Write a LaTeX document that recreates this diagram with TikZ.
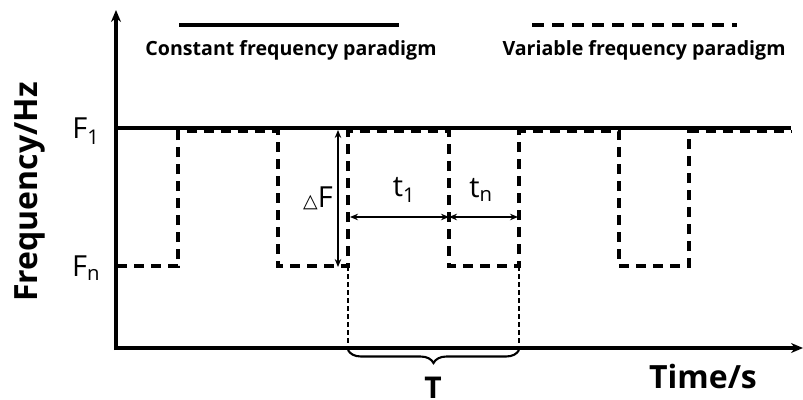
\documentclass[tikz,border=0pt]{standalone}
\usepackage{fontspec}
\setmainfont{Open Sans}
\newfontfamily\symfont{DejaVu Sans}
\usetikzlibrary{arrows.meta,decorations.pathreplacing}
\begin{document}
\begin{tikzpicture}[x=1pt,y=-1pt,
  axis/.style={line width=3.4pt,-{Stealth[length=12pt,width=10pt]}},
  wave/.style={line width=3.5pt,dash pattern=on 10pt off 7pt},
  guide/.style={line width=1.1pt,dash pattern=on 5pt off 3pt},
  solidline/.style={line width=3.2pt},
  dim/.style={line width=1.7pt,{Stealth[length=8pt,width=6.5pt]}-{Stealth[length=8pt,width=6.5pt]}},
  lbl/.style={inner sep=0pt,font=\fontsize{29}{33}\selectfont},
  btxt/.style={inner sep=0pt,font=\bfseries\fontsize{19.6}{23}\selectfont},
  big/.style={inner sep=0pt,font=\bfseries\fontsize{32}{36}\selectfont}]
\useasboundingbox (0,0) rectangle (803,399);
% axes
\coordinate (O) at (116,350);
\coordinate (ytop) at (116,10);
\coordinate (xend) at (803,348);
\draw[axis] (O) -- (ytop);
\draw[axis] (114.3,348) -- (xend);
% F1 solid line
\coordinate (f1a) at (116,128);
\coordinate (f1b) at (791,128);
\draw[solidline] (f1a) -- (f1b);
% waveform
\draw[wave] (117,266) -- (178,266) -- (178,131.5) -- (278,131.5) -- (278,266) -- (348,266) -- (348,131.5) -- (449,131.5) -- (449,266) -- (519,266) -- (519,131.5) -- (619,131.5) -- (619,266) -- (689,266) -- (689,131.5) -- (791,131.5);
% guides
\coordinate (g1a) at (348,266); \coordinate (g1b) at (348,349);
\coordinate (g2a) at (519,266); \coordinate (g2b) at (519,349);
\draw[guide] (g1a) -- (g1b);
\draw[guide] (g2a) -- (g2b);
% legend
\coordinate (l1a) at (179,25); \coordinate (l1b) at (399,25);
\draw[solidline] (l1a) -- (l1b);
\coordinate (l2a) at (532,25); \coordinate (l2b) at (737,25);
\draw[solidline,dash pattern=on 12pt off 8pt] (l2a) -- (l2b);
\node[btxt] (leg1) at (291,50) {Constant frequency paradigm};
\node[btxt] (leg2) at (644,50) {Variable frequency paradigm};
% axis labels
\node[lbl] (F1) at (86,131) {F\textsubscript{1}};
\node[lbl] (Fn) at (86,268) {F\textsubscript{n}};
\node[big,rotate=90] (ylab) at (30,192) {Frequency/Hz};
\node[big] (xlab) at (703,376) {Time/s};
% delta F
\coordinate (dfa) at (338,130);
\coordinate (dfb) at (338,267);
\draw[dim] (dfa) -- (dfb);
\node[inner sep=0pt,anchor=east] (dF) at (333,198) {{\symfont\fontsize{19}{22}\selectfont\raisebox{0pt}{△}}\fontsize{29}{33}\selectfont F};
% t1, tn
\coordinate (t1a) at (350,217); \coordinate (t1b) at (449,217);
\coordinate (tna) at (449,217); \coordinate (tnb) at (518,217);
\draw[dim] (t1a) -- (t1b);
\draw[dim] (tna) -- (tnb);
\node[lbl] (t1) at (404,190) {t\textsubscript{1}};
\node[lbl] (tn) at (481,190) {t\textsubscript{n}};
% brace
\coordinate (ba) at (348,350); \coordinate (bb) at (519,350);
\draw[line width=2.1pt,decorate,decoration={brace,mirror,amplitude=13pt}] (ba) -- (bb);
\node[inner sep=0pt,font=\bfseries\fontsize{30}{34}\selectfont,anchor=north] (T) at (433,377) {T};
\end{tikzpicture}
\end{document}
